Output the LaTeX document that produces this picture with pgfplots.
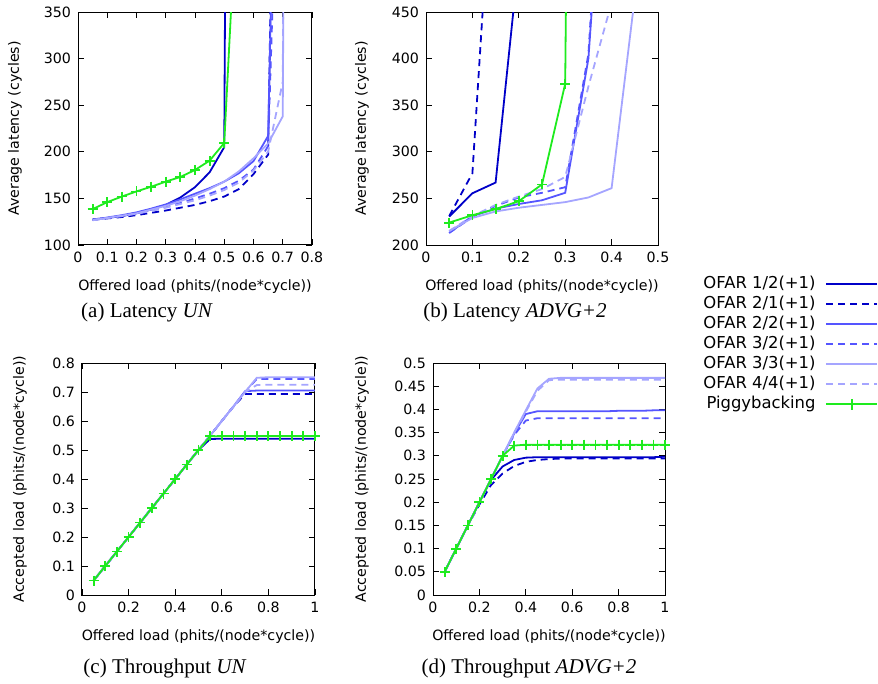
\documentclass[border=0pt]{standalone}
\usepackage{fontspec}
\setmainfont{DejaVu Sans}
\newfontfamily\capfont{Liberation Serif}
\usepackage{pgfplots}
\pgfplotsset{compat=1.18}

\definecolor{ofardark}{RGB}{0,0,200}
\definecolor{ofarmid}{RGB}{85,85,255}
\definecolor{ofarlight}{RGB}{165,165,255}
\definecolor{piggy}{RGB}{30,235,30}

\newcommand\fs{\fontsize{7.1}{8.5}\selectfont}
\newcommand\lfs{\fontsize{8.2}{9.5}\selectfont}

\pgfplotsset{
  gp/.style={
    scale only axis,
    tick align=inside,
    major tick length=3pt,
    axis line style={line width=0.5pt},
    every tick/.style={black,line width=0.4pt},
    tick label style={font=\fs},
    label style={font=\fs},
    scaled ticks=false,
    xticklabel style={/pgf/number format/.cd,fixed,precision=2,assume math mode=true},
    yticklabel style={/pgf/number format/.cd,fixed,precision=2,assume math mode=true},
    xlabel={Offered load (phits/(node*cycle))},
    xlabel style={at={([yshift=-21pt]axis description cs:0.5,0)},anchor=center},
    legend image code/.code={\draw[#1,line width=1pt] (0pt,0pt) -- (25.5pt,0pt);},
  },
  s12/.style={ofardark,line width=0.9pt,no markers},
  s21/.style={ofardark,line width=0.9pt,dash pattern=on 3.5pt off 2.5pt,no markers},
  s22/.style={ofarmid,line width=0.9pt,no markers},
  s32/.style={ofarmid,line width=0.9pt,dash pattern=on 3.5pt off 2.5pt,no markers},
  s33/.style={ofarlight,line width=0.9pt,no markers},
  s44/.style={ofarlight,line width=0.9pt,dash pattern=on 3.5pt off 2.5pt,no markers},
  pig/.style={piggy,line width=0.9pt,mark=+,mark size=2.5pt,mark options={solid,line width=0.9pt}},
}

\begin{document}
\begin{tikzpicture}
\path[use as bounding box] (0,0) rectangle (439pt,-342pt);

% (a) Latency UN
\begin{axis}[gp, at={(39pt,-122.5pt)}, anchor=south west,
  width=117pt, height=116.5pt,
  xmin=0, xmax=0.8, ymin=100, ymax=350,
  xtick={0,0.1,...,0.8}, ytick={100,150,...,350},
  ylabel={Average latency (cycles)},
  ylabel style={at={([xshift=-31.5pt]axis description cs:0,0.5)},anchor=center}]
\addplot[s12] coordinates {(0.05,127.5) (0.1,129) (0.15,131) (0.2,134) (0.25,138) (0.3,143) (0.35,151) (0.4,162) (0.45,178) (0.5,205) (0.55,3000)};
\addplot[s21] coordinates {(0.05,127) (0.1,128.5) (0.15,130) (0.2,132) (0.25,134.5) (0.3,137) (0.35,140) (0.4,143) (0.45,147) (0.5,152) (0.55,160) (0.6,176) (0.65,197) (0.7,1200)};
\addplot[s22] coordinates {(0.05,127) (0.1,129.5) (0.15,132) (0.2,135) (0.25,139) (0.3,143.5) (0.35,149) (0.4,155) (0.45,161) (0.5,168) (0.55,177) (0.6,190) (0.65,217) (0.7,950)};
\addplot[s32] coordinates {(0.05,127) (0.1,129) (0.15,131) (0.2,134) (0.25,137) (0.3,141) (0.35,145) (0.4,150) (0.45,155) (0.5,161) (0.55,169) (0.6,181) (0.65,206) (0.7,700)};
\addplot[s33] coordinates {(0.05,126.5) (0.1,129) (0.15,131.5) (0.2,134) (0.25,138) (0.3,142) (0.35,147) (0.4,153) (0.45,160) (0.5,168) (0.55,179) (0.6,193) (0.65,209) (0.7,238) (0.75,3000)};
\addplot[s44] coordinates {(0.05,127) (0.1,129) (0.15,131) (0.2,133.5) (0.25,136.5) (0.3,140) (0.35,144) (0.4,148) (0.45,153) (0.5,159) (0.55,167) (0.6,180) (0.65,200) (0.7,275) (0.75,3000)};
\addplot[pig,mark indices={1,...,10}] coordinates {(0.05,138.5) (0.1,146) (0.15,152) (0.2,157.5) (0.25,162.5) (0.3,168) (0.35,173) (0.4,180.5) (0.45,190.5) (0.5,209.5) (0.55,515)};
\end{axis}

% (b) Latency ADVG+2, carries the legend
\begin{axis}[gp, at={(213pt,-122.5pt)}, anchor=south west,
  width=116pt, height=116.5pt,
  xmin=0, xmax=0.5, ymin=200, ymax=450,
  xtick={0,0.1,...,0.5}, ytick={200,250,...,450},
  ylabel={Average latency (cycles)},
  ylabel style={at={([xshift=-32pt]axis description cs:0,0.5)},anchor=center},
  legend style={at={(1.978,-0.107)}, anchor=north east, draw=none, fill=none,
    font=\lfs, row sep=0pt,
    nodes={inner sep=1pt, text height=6pt, text depth=2pt},
    /tikz/every odd column/.append style={column sep=4pt}},
  legend cell align=right, legend plot pos=right]
\addplot[s12] coordinates {(0.05,230.5) (0.1,255.5) (0.15,267) (0.2,507)};
\addlegendentry{OFAR 1/2(+1)}
\addplot[s21] coordinates {(0.05,231) (0.1,277) (0.15,670)};
\addlegendentry{OFAR 2/1(+1)}
\addplot[s22] coordinates {(0.05,213) (0.1,231) (0.15,239) (0.2,244) (0.25,248) (0.3,256) (0.35,400) (0.4,757)};
\addlegendentry{OFAR 2/2(+1)}
\addplot[s32] coordinates {(0.05,213) (0.1,230) (0.15,242) (0.2,251) (0.25,256) (0.3,262) (0.35,405) (0.4,800)};
\addlegendentry{OFAR 3/2(+1)}
\addplot[s33] coordinates {(0.05,215) (0.1,229) (0.15,236) (0.2,240) (0.25,243) (0.3,246) (0.35,251) (0.4,261) (0.45,466)};
\addlegendentry{OFAR 3/3(+1)}
\addplot[s44] coordinates {(0.05,215) (0.1,231) (0.15,243) (0.2,252) (0.25,260) (0.3,273) (0.35,370) (0.4,460)};
\addlegendentry{OFAR 4/4(+1)}
\addplot[pig,mark indices={1,...,6},
  legend image code/.code={
    \draw[piggy,line width=1pt] (0pt,0pt) -- (25.5pt,0pt);
    \draw[piggy,line width=1pt] (10pt,0pt) -- (15.5pt,0pt) (12.75pt,-2.75pt) -- (12.75pt,2.75pt);}]
  coordinates {(0.05,224) (0.1,232) (0.15,238.5) (0.2,247) (0.25,265) (0.3,373) (0.35,3000)};
\addlegendentry{Piggybacking}
\end{axis}

% (c) Throughput UN
\begin{axis}[gp, at={(41pt,-297.5pt)}, anchor=south west,
  width=116.5pt, height=116pt,
  xmin=0, xmax=1, ymin=0, ymax=0.8,
  xtick={0,0.2,...,1}, ytick={0,0.1,...,0.8},
  ylabel={Accepted load (phits/(node*cycle))},
  ylabel style={at={([xshift=-31pt]axis description cs:0,0.5)},anchor=center}]
\addplot[s12] coordinates {(0.05,0.05) (0.1,0.1) (0.15,0.15) (0.2,0.2) (0.25,0.25) (0.3,0.3) (0.35,0.35) (0.4,0.4) (0.45,0.45) (0.5,0.5) (0.55,0.538) (0.6,0.539) (0.65,0.539) (0.7,0.539) (0.75,0.539) (0.8,0.539) (0.85,0.539) (0.9,0.539) (0.95,0.539) (1,0.539)};
\addplot[s21] coordinates {(0.05,0.05) (0.1,0.1) (0.15,0.15) (0.2,0.2) (0.25,0.25) (0.3,0.3) (0.35,0.35) (0.4,0.4) (0.45,0.45) (0.5,0.5) (0.55,0.55) (0.6,0.6) (0.65,0.65) (0.7,0.693) (0.75,0.693) (0.8,0.693) (0.85,0.693) (0.9,0.693) (0.95,0.693) (1,0.693)};
\addplot[s22] coordinates {(0.05,0.05) (0.1,0.1) (0.15,0.15) (0.2,0.2) (0.25,0.25) (0.3,0.3) (0.35,0.35) (0.4,0.4) (0.45,0.45) (0.5,0.5) (0.55,0.55) (0.6,0.6) (0.65,0.65) (0.7,0.703) (0.75,0.705) (0.8,0.705) (0.85,0.705) (0.9,0.705) (0.95,0.705) (1,0.705)};
\addplot[s32] coordinates {(0.05,0.05) (0.1,0.1) (0.15,0.15) (0.2,0.2) (0.25,0.25) (0.3,0.3) (0.35,0.35) (0.4,0.4) (0.45,0.45) (0.5,0.5) (0.55,0.55) (0.6,0.6) (0.65,0.65) (0.7,0.7) (0.75,0.745) (0.8,0.745) (0.85,0.745) (0.9,0.745) (0.95,0.745) (1,0.745)};
\addplot[s33] coordinates {(0.05,0.05) (0.1,0.1) (0.15,0.15) (0.2,0.2) (0.25,0.25) (0.3,0.3) (0.35,0.35) (0.4,0.4) (0.45,0.45) (0.5,0.5) (0.55,0.55) (0.6,0.6) (0.65,0.65) (0.7,0.7) (0.75,0.749) (0.8,0.751) (0.85,0.751) (0.9,0.751) (0.95,0.751) (1,0.751)};
\addplot[s44] coordinates {(0.05,0.05) (0.1,0.1) (0.15,0.15) (0.2,0.2) (0.25,0.25) (0.3,0.3) (0.35,0.35) (0.4,0.4) (0.45,0.45) (0.5,0.5) (0.55,0.55) (0.6,0.6) (0.65,0.65) (0.7,0.7) (0.75,0.724) (0.8,0.725) (0.85,0.725) (0.9,0.725) (0.95,0.725) (1,0.725)};
\addplot[pig] coordinates {(0.05,0.05) (0.1,0.1) (0.15,0.15) (0.2,0.2) (0.25,0.25) (0.3,0.3) (0.35,0.35) (0.4,0.4) (0.45,0.45) (0.5,0.5) (0.55,0.547) (0.6,0.548) (0.65,0.548) (0.7,0.548) (0.75,0.548) (0.8,0.548) (0.85,0.548) (0.9,0.548) (0.95,0.548) (1,0.548)};
\end{axis}

% (d) Throughput ADVG+2
\begin{axis}[gp, at={(216.5pt,-297.5pt)}, anchor=south west,
  width=116pt, height=116pt,
  xmin=0, xmax=1, ymin=0, ymax=0.5,
  xtick={0,0.2,...,1}, ytick={0,0.05,...,0.5},
  ylabel={Accepted load (phits/(node*cycle))},
  ylabel style={at={([xshift=-35.5pt]axis description cs:0,0.5)},anchor=center}]
\addplot[s12] coordinates {(0.05,0.05) (0.1,0.1) (0.15,0.15) (0.2,0.2) (0.25,0.248) (0.3,0.277) (0.35,0.291) (0.4,0.296) (0.45,0.297) (0.5,0.297) (0.55,0.297) (0.6,0.297) (0.65,0.297) (0.7,0.297) (0.75,0.297) (0.8,0.297) (0.85,0.297) (0.9,0.297) (0.95,0.297) (1,0.298)};
\addplot[s21] coordinates {(0.05,0.05) (0.1,0.1) (0.15,0.15) (0.2,0.195) (0.25,0.237) (0.3,0.262) (0.35,0.278) (0.4,0.287) (0.45,0.291) (0.5,0.293) (0.55,0.294) (0.6,0.294) (0.65,0.294) (0.7,0.294) (0.75,0.294) (0.8,0.294) (0.85,0.294) (0.9,0.294) (0.95,0.294) (1,0.294)};
\addplot[s22] coordinates {(0.05,0.05) (0.1,0.1) (0.15,0.15) (0.2,0.2) (0.25,0.25) (0.3,0.3) (0.35,0.348) (0.4,0.39) (0.45,0.396) (0.5,0.396) (0.55,0.396) (0.6,0.396) (0.65,0.396) (0.7,0.396) (0.75,0.396) (0.8,0.397) (0.85,0.397) (0.9,0.397) (0.95,0.398) (1,0.398)};
\addplot[s32] coordinates {(0.05,0.05) (0.1,0.1) (0.15,0.15) (0.2,0.2) (0.25,0.25) (0.3,0.3) (0.35,0.345) (0.4,0.376) (0.45,0.381) (0.5,0.381) (0.55,0.381) (0.6,0.381) (0.65,0.381) (0.7,0.381) (0.75,0.381) (0.8,0.381) (0.85,0.381) (0.9,0.381) (0.95,0.381) (1,0.381)};
\addplot[s33] coordinates {(0.05,0.05) (0.1,0.1) (0.15,0.15) (0.2,0.2) (0.25,0.25) (0.3,0.3) (0.35,0.35) (0.4,0.398) (0.45,0.445) (0.5,0.466) (0.55,0.468) (0.6,0.468) (0.65,0.468) (0.7,0.468) (0.75,0.468) (0.8,0.468) (0.85,0.468) (0.9,0.468) (0.95,0.468) (1,0.468)};
\addplot[s44] coordinates {(0.05,0.05) (0.1,0.1) (0.15,0.15) (0.2,0.2) (0.25,0.25) (0.3,0.3) (0.35,0.35) (0.4,0.395) (0.45,0.44) (0.5,0.463) (0.55,0.464) (0.6,0.464) (0.65,0.464) (0.7,0.464) (0.75,0.464) (0.8,0.464) (0.85,0.464) (0.9,0.464) (0.95,0.464) (1,0.464)};
\addplot[pig] coordinates {(0.05,0.05) (0.1,0.1) (0.15,0.15) (0.2,0.2) (0.25,0.25) (0.3,0.3) (0.35,0.322) (0.4,0.324) (0.45,0.324) (0.5,0.324) (0.55,0.324) (0.6,0.324) (0.65,0.324) (0.7,0.324) (0.75,0.324) (0.8,0.324) (0.85,0.324) (0.9,0.324) (0.95,0.324) (1,0.324)};
\end{axis}

% sub-captions
\node[anchor=base,font=\capfont\fontsize{10.5}{12}\selectfont] at (73.5pt,-159pt) {(a) Latency \textit{UN}};
\node[anchor=base,font=\capfont\fontsize{10.5}{12}\selectfont] at (257.5pt,-159pt) {(b) Latency \textit{ADVG+2}};
\node[anchor=base,font=\capfont\fontsize{10.5}{12}\selectfont] at (82.5pt,-336.5pt) {(c) Throughput \textit{UN}};
\node[anchor=base,font=\capfont\fontsize{10.5}{12}\selectfont] at (264.5pt,-336.5pt) {(d) Throughput \textit{ADVG+2}};
\end{tikzpicture}
\end{document}
